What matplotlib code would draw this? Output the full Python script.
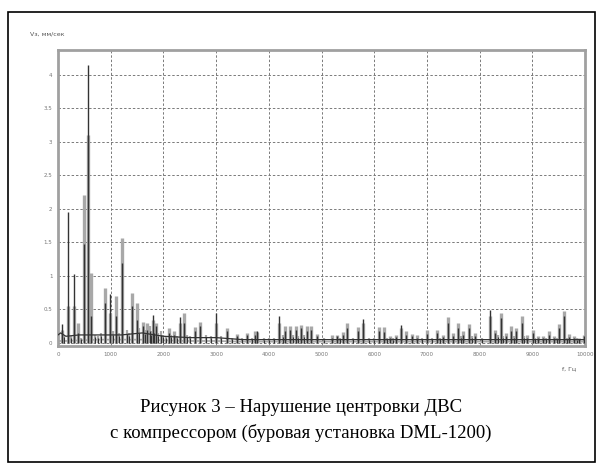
import matplotlib.pyplot as plt
from matplotlib.patches import Rectangle

plt.rcParams['font.family'] = ['DejaVu Sans']

# пики спектра, частота (Гц) и амплитуда (мм/сек)
peak_f = [75, 195, 305, 385, 500, 575, 625, 890, 985, 1095, 1210, 1400, 1490, 1610,
          1690, 1800, 1860, 2110, 2200, 2310, 2390, 2600, 2700, 3000, 3200, 3400,
          3590, 3740, 3780, 4200, 4310, 4400, 4510, 4610, 4720, 4800, 4910, 5200,
          5290, 5400, 5480, 5690, 5780, 6090, 6190, 6300, 6410, 6510, 6600, 6720,
          6810, 7000, 7190, 7300, 7400, 7490, 7590, 7690, 7800, 7910, 8200, 8290,
          8400, 8500, 8600, 8690, 8800, 8900, 9010, 9110, 9200, 9310, 9410, 9510,
          9600, 9700, 9790, 9890, 9980]
gray_v = [0.20, 0.55, 0.55, 0.30, 2.20, 3.10, 1.05, 0.82, 0.45, 0.70, 1.57, 0.75,
          0.60, 0.31, 0.30, 0.35, 0.30, 0.22, 0.18, 0.30, 0.45, 0.24, 0.32, 0.30,
          0.22, 0.13, 0.15, 0.18, 0.16, 0.30, 0.25, 0.26, 0.26, 0.27, 0.25, 0.25,
          0.13, 0.12, 0.12, 0.17, 0.30, 0.24, 0.30, 0.24, 0.24, 0.10, 0.12, 0.22,
          0.18, 0.14, 0.12, 0.20, 0.20, 0.12, 0.39, 0.15, 0.30, 0.18, 0.28, 0.15,
          0.40, 0.20, 0.45, 0.15, 0.25, 0.22, 0.40, 0.12, 0.20, 0.10, 0.10, 0.18,
          0.10, 0.28, 0.48, 0.13, 0.10, 0.08, 0.12]
dark_v = [0.28, 1.96, 1.03, 0.15, 1.48, 4.15, 0.40, 0.60, 0.73, 0.40, 1.19, 0.55,
          0.35, 0.25, 0.20, 0.42, 0.25, 0.15, 0.12, 0.39, 0.30, 0.18, 0.25, 0.45,
          0.18, 0.10, 0.12, 0.12, 0.18, 0.40, 0.18, 0.20, 0.20, 0.22, 0.18, 0.20,
          0.10, 0.08, 0.10, 0.12, 0.22, 0.18, 0.36, 0.18, 0.16, 0.08, 0.09, 0.27,
          0.12, 0.10, 0.08, 0.14, 0.15, 0.09, 0.30, 0.10, 0.22, 0.12, 0.22, 0.10,
          0.49, 0.15, 0.38, 0.10, 0.18, 0.18, 0.30, 0.08, 0.15, 0.07, 0.07, 0.12,
          0.07, 0.22, 0.40, 0.09, 0.07, 0.06, 0.10]

# мелкие пики между основными
minor_f = [120, 250, 440, 700, 760, 820, 1040, 1150, 1300, 1350, 1540, 1650, 1740,
           1770, 1830, 1900, 1950, 2000, 2050, 2150, 2250, 2450, 2500, 2800, 2900,
           3100, 3300, 3500, 3680, 3900, 4000, 4100, 4260, 4460, 4560, 4660, 5050,
           5350, 5600, 5900, 6000, 6250, 6360, 6900, 7100, 7250, 7640, 7850, 8050,
           8350, 8450, 8650, 8850, 9060, 9260, 9460, 9650, 9850]
minor_v = [0.12, 0.10, 0.08, 0.12, 0.10, 0.15, 0.18, 0.15, 0.20, 0.15, 0.22, 0.20,
           0.25, 0.18, 0.22, 0.15, 0.18, 0.12, 0.10, 0.12, 0.10, 0.12, 0.10, 0.12,
           0.10, 0.10, 0.08, 0.08, 0.08, 0.07, 0.07, 0.08, 0.12, 0.12, 0.10, 0.12,
           0.07, 0.08, 0.08, 0.07, 0.07, 0.08, 0.07, 0.08, 0.08, 0.08, 0.10, 0.10,
           0.08, 0.12, 0.10, 0.10, 0.10, 0.08, 0.08, 0.08, 0.08, 0.07]

# фоновый уровень
base_f = [0, 50, 150, 400, 800, 1200, 1600, 2000, 2500, 3000, 3500, 4000, 5000,
          6000, 7000, 8000, 9000, 10000]
gray_base = [0.03, 0.03, 0.03, 0.04, 0.05, 0.05, 0.05, 0.04, 0.03, 0.03, 0.02,
             0.02, 0.02, 0.02, 0.02, 0.02, 0.02, 0.02]
dark_base = [0.12, 0.15, 0.10, 0.12, 0.12, 0.12, 0.15, 0.10, 0.08, 0.08, 0.05,
             0.05, 0.05, 0.05, 0.05, 0.05, 0.05, 0.05]

x_ticks = [0, 1000, 2000, 3000, 4000, 5000, 6000, 7000, 8000, 9000, 10000]
y_ticks = [0, 0.5, 1, 1.5, 2, 2.5, 3, 3.5, 4]
y_labels = ['0', '0.5', '1', '1.5', '2', '2.5', '3', '3.5', '4']

fig = plt.figure(figsize=(6.02, 4.74), dpi=100)
ax = fig.add_axes([58 / 602, 1 - 346 / 474, 527 / 602, 296 / 474])

ax.plot(base_f, gray_base, color='#a8a8a8', lw=1.2, zorder=2)
ax.vlines(peak_f, 0, gray_v, color='#a8a8a8', lw=2.4, zorder=2)
ax.vlines(minor_f, 0, minor_v, color='#a8a8a8', lw=1.6, zorder=2)
ax.plot(base_f, dark_base, color='#333333', lw=0.9, zorder=3)
ax.vlines(peak_f, 0, dark_v, color='#333333', lw=1.0, zorder=3)
ax.vlines(minor_f, 0, [v * 0.7 for v in minor_v], color='#333333', lw=0.8, zorder=3)

ax.set_xlim(0, 10000)
ax.set_ylim(-0.045, 4.37)
ax.set_xticks(x_ticks)
ax.set_xticklabels([str(t) for t in x_ticks])
ax.set_yticks(y_ticks)
ax.set_yticklabels(y_labels)
ax.tick_params(labelsize=4, colors='#777777', length=0, pad=4)
ax.grid(True, color='#7a7a7a', ls=(0, (2.5, 2)), lw=0.7)
ax.set_axisbelow(True)
for s in ax.spines.values():
    s.set_color('#a0a0a0')
    s.set_linewidth(2)

fig.text(30 / 602, 1 - 35 / 474, 'Vз, мм/сек', fontsize=4.5, color='#555555')
fig.text(562 / 602, 1 - 370 / 474, 'f, Гц', fontsize=4.5, color='#555555')

fig.patches.append(Rectangle((8 / 602, 1 - 462 / 474), 587 / 602, 450 / 474,
                             transform=fig.transFigure, fill=False,
                             edgecolor='black', lw=1.2))

fig.text(0.5, 1 - 408 / 474, 'Рисунок 3 – Нарушение центровки ДВС',
         ha='center', va='center', fontsize=13.5, family='Liberation Serif')
fig.text(0.5, 1 - 433 / 474, 'с компрессором (буровая установка DML-1200)',
         ha='center', va='center', fontsize=13.5, family='Liberation Serif')

fig.savefig('out.png', dpi=100)
